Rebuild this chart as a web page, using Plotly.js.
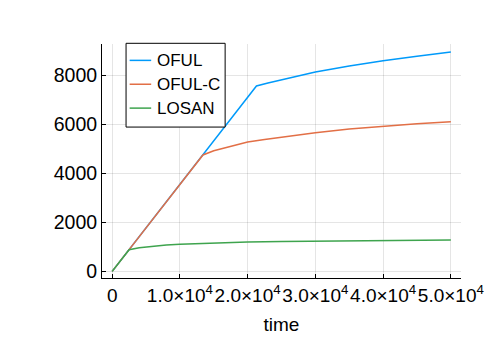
<!DOCTYPE html>
<html>
<head>
<meta charset="utf-8">
<script src="https://cdn.plot.ly/plotly-3.0.1.min.js"></script>
<style>
  html, body { margin:0; padding:0; background:#fff; }
  #chart { width:499px; height:356px; }
</style>
</head>
<body>
<div id="chart"></div>
<script>
  // series
  const seriesNames = ['OFUL', 'OFUL-C', 'LOSAN'];
  const seriesColors = ['#009AFA', '#E26F46', '#3EA44E'];

  const timeOFUL = [0, 21300, 23000, 25000, 27500, 30000, 35000, 40000, 45000, 50000];
  const regretOFUL = [0, 7560, 7680, 7815, 7975, 8125, 8370, 8590, 8770, 8940];

  const timeOFULC = [0, 13400, 15000, 17500, 20000, 22500, 25000, 30000, 35000, 40000, 45000, 50000];
  const regretOFULC = [0, 4745, 4920, 5110, 5270, 5380, 5480, 5650, 5800, 5920, 6020, 6100];

  const timeLOSAN = [0, 2500, 4000, 6000, 8000, 10000, 15000, 20000, 25000, 30000, 35000, 40000, 45000, 50000];
  const regretLOSAN = [0, 880, 960, 1030, 1075, 1110, 1160, 1195, 1215, 1232, 1245, 1255, 1265, 1275];

  const xTickVals = [0, 10000, 20000, 30000, 40000, 50000];
  const xTickText = ['0', '1.0×10<sup>4</sup>', '2.0×10<sup>4</sup>', '3.0×10<sup>4</sup>', '4.0×10<sup>4</sup>', '5.0×10<sup>4</sup>'];
  const yTickVals = [0, 2000, 4000, 6000, 8000];

  const xs = [timeOFUL, timeOFULC, timeLOSAN];
  const ys = [regretOFUL, regretOFULC, regretLOSAN];

  const traces = seriesNames.map((name, i) => ({
    x: xs[i],
    y: ys[i],
    name: name,
    type: 'scatter',
    mode: 'lines',
    line: { color: seriesColors[i], width: 1.5 }
  }));

  const FONT = 'Liberation Sans, Arial, sans-serif';
  const axisBase = {
    showline: true, linecolor: '#000', linewidth: 1, mirror: false,
    showgrid: true, gridcolor: 'rgba(0,0,0,0.1)', gridwidth: 1,
    zeroline: false,
    ticks: 'inside', ticklen: 4, tickcolor: '#000',
    tickangle: 0,
    tickfont: { family: FONT, size: 19.5, color: '#000' }
  };

  // legend box drawn by hand (paper coords of the plot area)
  const legBox = { x0: 0.067, x1: 0.343, y0: 0.645, y1: 1.003 };
  const legRows = [0.93, 0.828, 0.726];
  const legLine = [0.077, 0.137];
  const legTextX = 0.147;

  const shapes = [{
    type: 'rect', xref: 'paper', yref: 'paper',
    x0: legBox.x0, x1: legBox.x1, y0: legBox.y0, y1: legBox.y1,
    line: { color: '#000', width: 1 }, fillcolor: '#fff', layer: 'above'
  }];
  const annotations = [];
  seriesNames.forEach((name, i) => {
    shapes.push({
      type: 'line', xref: 'paper', yref: 'paper',
      x0: legLine[0], x1: legLine[1], y0: legRows[i], y1: legRows[i],
      line: { color: seriesColors[i], width: 1.5 }, layer: 'above'
    });
    annotations.push({
      xref: 'paper', yref: 'paper', x: legTextX, y: legRows[i],
      xanchor: 'left', yanchor: 'middle', showarrow: false,
      text: name, font: { family: FONT, size: 17, color: '#000' }
    });
  });

  const layout = {
    width: 499, height: 356,
    margin: { l: 101.5, r: 37.5, t: 44, b: 78 },
    paper_bgcolor: '#fff',
    plot_bgcolor: '#fff',
    showlegend: false,
    shapes: shapes,
    annotations: annotations,
    xaxis: Object.assign({}, axisBase, {
      range: [-1500, 51500],
      tickvals: xTickVals, ticktext: xTickText,
      tickfont: { family: FONT, size: 19, color: '#000' },
      title: { text: 'time', font: { family: FONT, size: 19, color: '#000' }, standoff: 12 }
    }),
    yaxis: Object.assign({}, axisBase, {
      range: [-270, 9270],
      tickvals: yTickVals, ticktext: yTickVals.map(String)
    })
  };

  Plotly.newPlot('chart', traces, layout, { displayModeBar: false, staticPlot: true });
</script>
</body>
</html>
